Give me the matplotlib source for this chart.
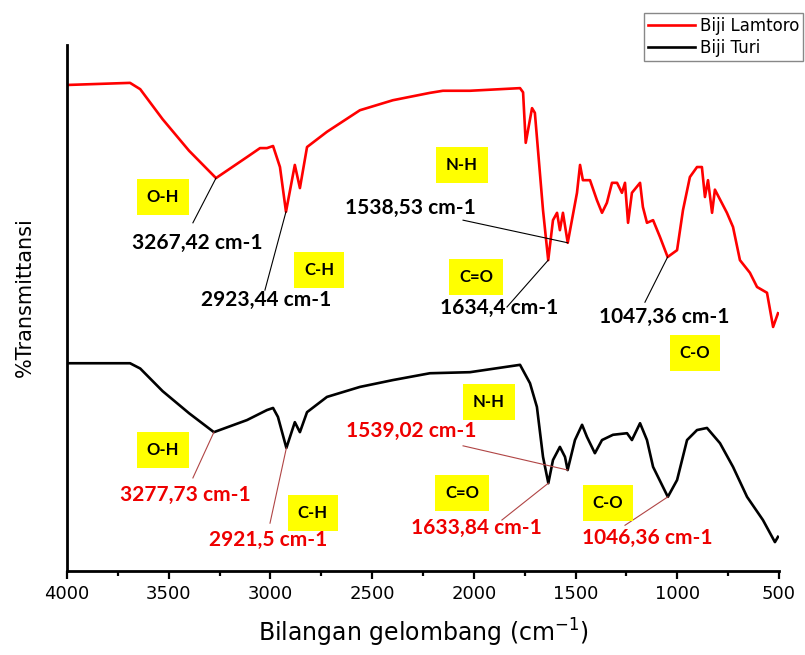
import numpy as np
import matplotlib.pyplot as plt

# Biji Lamtoro spectrum (upper trace)
lamtoro_wn = [4000, 3690, 3640, 3530, 3400, 3267.42, 3115, 3051, 3017, 2987,
              2953, 2923.44, 2880, 2855, 2820, 2722, 2560, 2398, 2216, 2152,
              2019, 1773, 1758, 1745, 1714, 1700, 1660, 1634.4, 1611, 1591,
              1577, 1562, 1538.53, 1493, 1478, 1464, 1429, 1395, 1370, 1346,
              1321, 1296, 1272, 1257, 1242, 1223, 1183, 1169, 1149, 1119,
              1085, 1047.36, 1001, 972, 938, 903, 879, 864, 849, 829,
              815, 756, 726, 692, 643, 608, 559, 529, 505]
lamtoro_t = [92.4, 92.8, 91.6, 85.9, 79.9, 74.7, 78.7, 80.4, 80.4, 80.8,
             76.8, 68.3, 77.2, 72.8, 80.6, 83.5, 87.6, 89.5, 90.9, 91.3,
             91.3, 91.8, 91.0, 81.4, 88.0, 87.1, 68.6, 59.1, 66.7, 68.1,
             64.8, 68.1, 62.4, 71.9, 77.2, 74.3, 74.3, 70.5, 68.1, 70.0,
             73.8, 73.8, 71.9, 73.8, 66.2, 71.9, 73.8, 69.2, 66.2, 66.7,
             63.5, 59.7, 61.0, 68.6, 74.9, 76.8, 76.8, 71.1, 74.3, 68.1,
             72.5, 68.1, 65.4, 59.1, 56.7, 54.0, 52.9, 46.4, 49.0]

# Biji Turi spectrum (lower trace)
turi_wn = [4000, 3690, 3640, 3530, 3400, 3277.73, 3115, 3017, 2987, 2963,
           2921.5, 2880, 2855, 2820, 2722, 2560, 2398, 2216, 2019, 1773,
           1724, 1690, 1660, 1633.84, 1611, 1577, 1552, 1539.02, 1503, 1468,
           1444, 1405, 1370, 1316, 1247, 1223, 1183, 1149, 1119, 1046.36,
           1001, 952, 903, 854, 790, 726, 657, 579, 520, 505]
turi_t = [39.5, 39.5, 38.5, 34.2, 30.0, 26.4, 28.7, 30.6, 31.0, 29.3,
          23.4, 28.3, 26.4, 30.2, 33.1, 35.0, 36.3, 37.6, 37.8, 39.2,
          35.7, 31.2, 21.7, 16.7, 21.1, 23.6, 21.7, 19.2, 24.9, 27.8,
          25.5, 22.4, 24.9, 25.9, 26.2, 24.9, 28.1, 24.9, 19.8, 14.1,
          17.3, 24.9, 26.8, 27.2, 24.3, 19.8, 14.1, 9.7, 5.5, 6.5]

# assigned peaks: (wavenumber, label position, leader end)
lamtoro_peaks = [(3267.42, (3361, 62.4), (3381, 66.2)),
                 (2923.44, (3022, 51.5), (3027, 53.4)),
                 (1538.53, (2314, 69.0), (2053, 66.7)),
                 (1634.4, (1876, 50.0), (1837, 50.2)),
                 (1047.36, (1065, 48.3), (1159, 51.1))]
turi_peaks = [(3277.73, (3420, 14.4), (3381, 17.7)),
              (2921.5, (3012, 5.9), (3002, 9.1)),
              (1539.02, (2309, 26.6), (2053, 23.8)),
              (1633.84, (1989, 8.2), (1862, 9.7)),
              (1046.36, (1149, 6.3), (1257, 8.7))]

# functional group tags
lamtoro_groups = [("O-H", 3528, 71.1), ("C-H", 2761, 57.2), ("N-H", 2058, 77.2),
                  ("C=O", 1989, 55.9), ("C-O", 913, 41.4)]
turi_groups = [("O-H", 3528, 23.0), ("C-H", 2791, 11.0), ("N-H", 1925, 32.1),
               ("C=O", 2058, 14.8), ("C-O", 1340, 12.9)]

LABEL_FONT = ['Lato', 'DejaVu Sans']

fig = plt.figure(figsize=(8.05, 6.55), dpi=100)
ax = fig.add_axes([0.0832, 0.1282, 0.8845, 0.8031])

ax.plot(lamtoro_wn, lamtoro_t, color='#ff0000', lw=1.9, label='Biji Lamtoro')
ax.plot(turi_wn, turi_t, color='black', lw=1.9, label='Biji Turi')


def mark_peaks(wn, t, peaks, text_color, line_color):
    xs = np.array(wn)[::-1]
    ys = np.array(t)[::-1]
    for p, (tx, ty), (lx, ly) in peaks:
        py = np.interp(p, xs, ys)
        ax.plot([p, lx], [py, ly], color=line_color, lw=0.8)
        label = '{:g} cm-1'.format(p).replace('.', ',')
        ax.text(tx, ty, label, color=text_color, fontsize=15, fontweight='bold',
                family=LABEL_FONT, ha='center', va='center')


def tag_groups(groups):
    for name, x, y in groups:
        ax.text(x, y, name, fontsize=12, fontweight='bold', family=LABEL_FONT,
                ha='center', va='center',
                bbox=dict(boxstyle='square,pad=0.6', fc='#ffff00', ec='none'))


mark_peaks(lamtoro_wn, lamtoro_t, lamtoro_peaks, 'black', 'black')
mark_peaks(turi_wn, turi_t, turi_peaks, '#ee0000', '#b04545')
tag_groups(lamtoro_groups)
tag_groups(turi_groups)

ax.set_xlim(4000, 500)
ax.set_ylim(0, 100)
ax.set_xticks(np.arange(4000, 499, -500))
ax.set_xticks(np.arange(3750, 500, -500), minor=True)
ax.set_yticks([])
ax.tick_params(axis='x', which='major', length=6, width=1.6, labelsize=13, pad=4)
ax.tick_params(axis='x', which='minor', length=3.5, width=1.6)
for side in ('top', 'right'):
    ax.spines[side].set_visible(False)
for side in ('left', 'bottom'):
    ax.spines[side].set_linewidth(2.0)

ax.set_xlabel('Bilangan gelombang (cm$^{-1}$)', fontsize=17, labelpad=10)
ax.set_ylabel('%Transmittansi', fontsize=15)
ax.yaxis.set_label_coords(-0.045, 0.52)

fig.legend(loc='upper right', bbox_to_anchor=(0.998, 0.98), fontsize=12,
           frameon=True, fancybox=False, edgecolor='#888888', framealpha=1,
           handlelength=2.8, labelspacing=0.2, borderpad=0.25, handletextpad=0.3,
           borderaxespad=0)

fig.savefig('out.png', dpi=100)
